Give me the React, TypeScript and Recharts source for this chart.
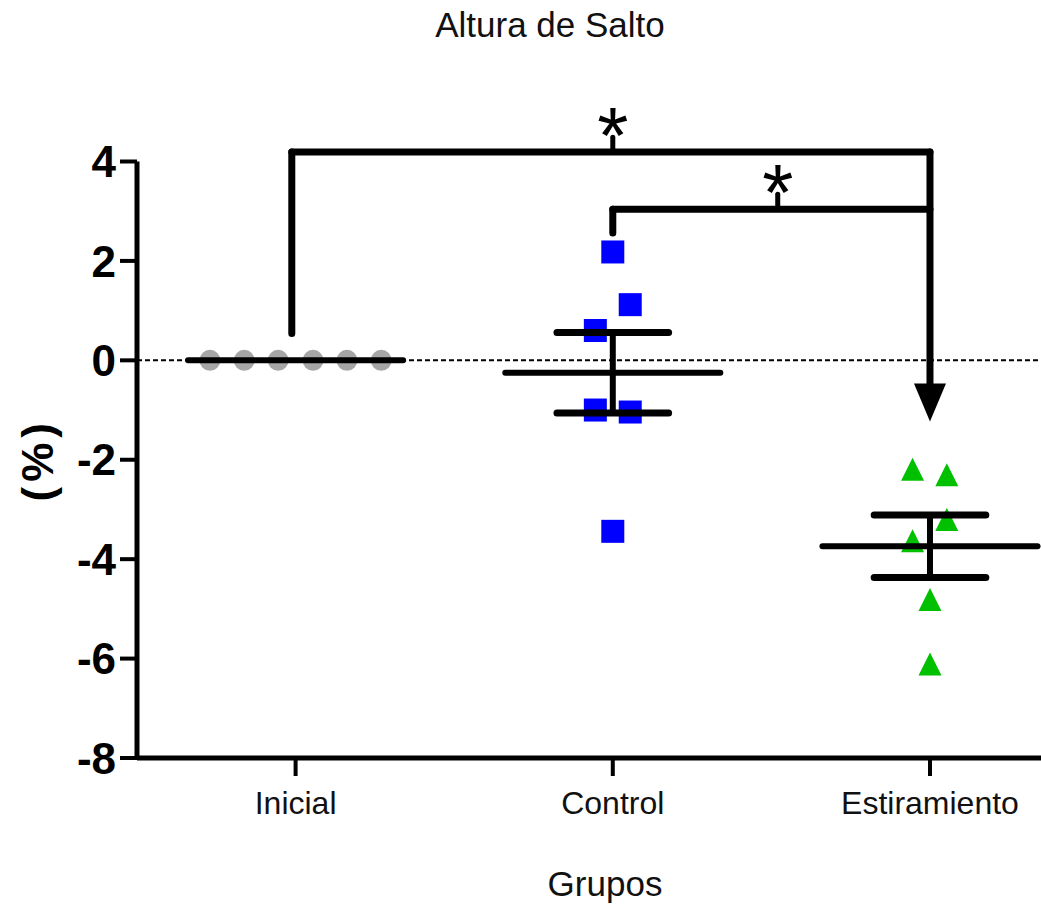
import React from 'react';
import { ScatterChart, Scatter, XAxis, YAxis, ReferenceLine, ReferenceDot, Label } from 'recharts';

const FONT = '"Liberation Sans", Arial, Helvetica, sans-serif';

const categories = ['Inicial', 'Control', 'Estiramiento'];
const categoryPositions = [1, 2, 3];
const yTicks = [-8, -6, -4, -2, 0, 2, 4];

// individual points (x = group position + horizontal scatter offset)
const inicialX = [0.73, 0.838, 0.945, 1.055, 1.162, 1.27];
const inicialY = [0, 0, 0, 0, 0, 0];
const controlX = [2, 2.055, 1.945, 1.945, 2.055, 2];
const controlY = [2.18, 1.12, 0.6, -1.0, -1.04, -3.44];
const estirX = [2.945, 3.053, 3.053, 2.945, 3, 3];
const estirY = [-2.22, -2.33, -3.23, -3.66, -4.84, -6.14];

// mean and SEM shown for each group
const groupMeans = [0, -0.25, -3.74];
const groupSems = [0, 0.81, 0.63];

// significance brackets
const bracketLevels = [4.19, 3.04];
const bracketFrom = [0.988, 2];
const bracketTo = [3, 3];
const bracketDrop = [0.54, 2.56];
const bracketStemX = [2, 2.52];
const bracketLabels = ['*', '*'];
const arrowTipY = -1.23;

const zip = (xs: number[], ys: number[]) => xs.map((x, i) => ({ x, y: ys[i] }));

const inicialData = zip(inicialX, inicialY);
const controlData = zip(controlX, controlY);
const estirData = zip(estirX, estirY);

const Circle = (p: any) => <circle cx={p.cx} cy={p.cy} r={10.5} fill="#a6a6a6" />;
const Square = (p: any) => <rect x={p.cx - 11.5} y={p.cy - 11.5} width={23} height={23} fill="#0000ff" />;
const Triangle = (p: any) => (
  <polygon
    points={`${p.cx},${p.cy - 13} ${p.cx - 11.5},${p.cy + 10} ${p.cx + 11.5},${p.cy + 10}`}
    fill="#00c000"
  />
);

const MEAN_HALF = 0.339;
const CAP_HALF = 0.176;
const BRACKET_W = 7;

export default function App() {
  const lineProps = { stroke: '#000', ifOverflow: 'visible' as const, strokeLinecap: 'round' as const, zIndex: 700 };
  return (
    <div style={{ position: 'absolute', left: 0, top: 0, width: 1041, height: 905, background: '#fff' }}>
      <div
        style={{
          position: 'absolute',
          left: 0,
          width: 1100,
          top: 7,
          textAlign: 'center',
          fontFamily: FONT,
          fontSize: 35,
          lineHeight: '35px',
          color: '#111',
        }}
      >
        Altura de Salto
      </div>
      <ScatterChart width={1041} height={905} margin={{ top: 161.5, right: 0, bottom: 0, left: 0 }}>
        <XAxis
          type="number"
          dataKey="x"
          domain={[0.5, 3.35]}
          allowDataOverflow
          ticks={categoryPositions}
          tickFormatter={(v: number) => categories[categoryPositions.indexOf(v)]}
          height={147}
          tickSize={18}
          tickMargin={15}
          axisLine={{ stroke: '#000', strokeWidth: 5 }}
          tickLine={{ stroke: '#000', strokeWidth: 4 }}
          tick={{ fontSize: 32, fill: '#111', fontFamily: FONT }}
        >
          <Label
            value="Grupos"
            position="insideBottom"
            offset={9}
            dx={16}
            style={{ fontSize: 35, fill: '#111', fontFamily: FONT }}
          />
        </XAxis>
        <YAxis
          type="number"
          dataKey="y"
          domain={[-8, 4]}
          allowDataOverflow
          ticks={yTicks}
          width={137}
          tickSize={17}
          tickMargin={4}
          axisLine={{ stroke: '#000', strokeWidth: 5 }}
          tickLine={{ stroke: '#000', strokeWidth: 4 }}
          tick={{ fontSize: 44, fill: '#000', fontWeight: 'bold', fontFamily: FONT }}
        >
          <Label
            value="(%)"
            angle={-90}
            position="center"
            dx={-31}
            style={{ fontSize: 44, fontWeight: 'bold', fill: '#000', fontFamily: FONT, letterSpacing: 5 }}
          />
        </YAxis>

        <ReferenceLine y={0} stroke="#000" strokeWidth={2} strokeDasharray="5 3" />

        <Scatter data={inicialData} shape={Circle} isAnimationActive={false} />
        <Scatter data={controlData} shape={Square} isAnimationActive={false} />
        <Scatter data={estirData} shape={Triangle} isAnimationActive={false} />

        {categoryPositions.map((pos, i) => (
          <ReferenceLine
            key={`mean-${i}`}
            segment={[
              { x: pos - MEAN_HALF, y: groupMeans[i] },
              { x: pos + MEAN_HALF, y: groupMeans[i] },
            ]}
            strokeWidth={6}
            {...lineProps}
          />
        ))}
        {categoryPositions.map((pos, i) =>
          groupSems[i] > 0 ? (
            <ReferenceLine
              key={`semv-${i}`}
              segment={[
                { x: pos, y: groupMeans[i] + groupSems[i] },
                { x: pos, y: groupMeans[i] - groupSems[i] },
              ]}
              strokeWidth={6}
              {...lineProps}
            />
          ) : null
        )}
        {categoryPositions.map((pos, i) =>
          groupSems[i] > 0 ? (
            <ReferenceLine
              key={`semt-${i}`}
              segment={[
                { x: pos - CAP_HALF, y: groupMeans[i] + groupSems[i] },
                { x: pos + CAP_HALF, y: groupMeans[i] + groupSems[i] },
              ]}
              strokeWidth={7}
              {...lineProps}
            />
          ) : null
        )}
        {categoryPositions.map((pos, i) =>
          groupSems[i] > 0 ? (
            <ReferenceLine
              key={`semb-${i}`}
              segment={[
                { x: pos - CAP_HALF, y: groupMeans[i] - groupSems[i] },
                { x: pos + CAP_HALF, y: groupMeans[i] - groupSems[i] },
              ]}
              strokeWidth={7}
              {...lineProps}
            />
          ) : null
        )}

        {bracketLevels.map((lvl, i) => (
          <ReferenceLine
            key={`bh-${i}`}
            segment={[
              { x: bracketFrom[i], y: lvl },
              { x: bracketTo[i], y: lvl },
            ]}
            strokeWidth={BRACKET_W}
            {...lineProps}
          />
        ))}
        {bracketLevels.map((lvl, i) => (
          <ReferenceLine
            key={`bl-${i}`}
            segment={[
              { x: bracketFrom[i], y: lvl },
              { x: bracketFrom[i], y: bracketDrop[i] },
            ]}
            strokeWidth={BRACKET_W}
            {...lineProps}
          />
        ))}
        {bracketLevels.map((lvl, i) => (
          <ReferenceLine
            key={`bs-${i}`}
            segment={[
              { x: bracketStemX[i], y: lvl },
              { x: bracketStemX[i], y: lvl + 0.3 },
            ]}
            strokeWidth={5}
            {...lineProps}
          />
        ))}
        <ReferenceLine
          segment={[
            { x: 3, y: bracketLevels[0] },
            { x: 3, y: arrowTipY + 0.7 },
          ]}
          strokeWidth={BRACKET_W}
          {...lineProps}
        />
        <ReferenceDot
          x={3}
          y={arrowTipY}
          ifOverflow="visible"
          zIndex={700}
          shape={(p: any) => (
            <polygon points={`${p.cx - 16},${p.cy - 38} ${p.cx + 16},${p.cy - 38} ${p.cx},${p.cy}`} fill="#000" />
          )}
        />
        {bracketLevels.map((lvl, i) => (
          <ReferenceDot
            key={`star-${i}`}
            x={bracketStemX[i]}
            y={lvl + 0.5}
            ifOverflow="visible"
            zIndex={700}
            shape={(p: any) => (
              <text
                x={p.cx}
                y={p.cy + 36}
                textAnchor="middle"
                fontSize={80}
                fontFamily={FONT}
                fill="#000"
              >
                {bracketLabels[i]}
              </text>
            )}
          />
        ))}
      </ScatterChart>
    </div>
  );
}
